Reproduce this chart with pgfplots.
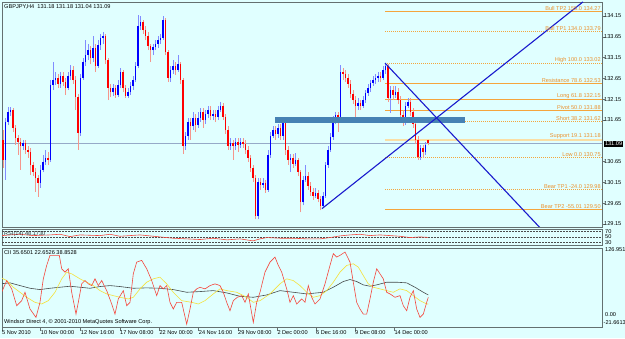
\documentclass[border=0pt]{standalone}
\usepackage{pgfplots}
\usepackage{pgfplotstable}
\pgfplotsset{compat=1.18}
\usepackage{fontspec}
\setmainfont{Liberation Sans}
\definecolor{bg}{RGB}{224,255,255}
\definecolor{bord}{RGB}{100,112,112}
\definecolor{cblue}{RGB}{0,0,255}
\definecolor{cred}{RGB}{255,0,0}
\definecolor{wblue}{RGB}{130,140,255}
\definecolor{wred}{RGB}{245,150,140}
\definecolor{fib}{RGB}{245,165,60}
\definecolor{fibpale}{RGB}{250,222,165}
\definecolor{fibtxt}{RGB}{235,145,45}
\definecolor{tline}{RGB}{25,25,205}
\definecolor{steel}{RGB}{70,130,180}
\definecolor{pline}{RGB}{150,170,200}
\definecolor{ccired}{RGB}{245,70,60}
\definecolor{cciyel}{RGB}{245,225,60}
\definecolor{ccigray}{RGB}{70,75,75}
\newcommand{\lab}{\fontsize{5.6}{6.5}\selectfont}
% bullish bars: x open high low close
\pgfplotstableread{
x o h l c
5.5 130.69 131.70 130.21 131.60
8 131.60 131.96 131.53 131.84
10.5 131.84 131.96 131.75 131.89
23 131.03 131.17 130.93 131.10
40.5 130.14 130.57 130.02 130.45
43 130.45 130.81 130.40 130.64
45.5 130.64 130.93 130.57 130.74
50.5 130.69 132.61 130.64 132.49
53 132.49 133.04 132.37 132.61
55.5 132.61 132.80 132.49 132.66
60.5 132.52 132.80 132.42 132.71
68 132.42 132.80 132.37 132.71
70.5 132.71 132.97 132.61 132.85
80.5 131.34 132.76 131.27 132.66
83 132.66 133.14 132.61 133.04
85.5 133.04 133.57 132.95 133.21
88 133.21 133.48 133.09 133.33
93 133.14 133.67 133.04 133.38
98 132.95 133.57 132.90 133.45
100.5 133.45 133.72 133.33 133.62
103 133.62 133.77 133.48 133.67
113 132.32 132.52 132.23 132.42
118 132.25 132.61 132.20 132.49
120.5 132.49 132.90 132.42 132.80
128 132.23 132.42 132.18 132.32
130.5 132.32 132.56 132.25 132.47
133 132.47 132.71 132.37 132.61
135.5 132.61 133.04 132.56 132.95
138 132.95 134.17 132.90 133.91
140.5 133.91 134.15 133.81 134.01
153 133.33 133.48 133.21 133.41
155.5 133.41 133.57 133.33 133.48
158 133.48 133.67 133.38 133.57
160.5 133.57 133.72 133.48 133.62
163 133.62 134.15 133.57 134.05
170.5 132.66 132.95 132.56 132.85
173 132.85 133.09 132.76 132.95
178 132.85 133.21 132.80 132.99
185.5 131.03 131.36 130.93 131.27
188 131.27 131.70 131.17 131.60
193 131.50 131.84 131.41 131.70
198 131.53 131.84 131.46 131.70
200.5 131.70 131.94 131.60 131.84
205.5 131.65 131.89 131.55 131.79
208 131.79 131.99 131.70 131.89
213 131.75 131.89 131.65 131.79
218 131.72 131.99 131.65 131.89
220.5 131.89 132.08 131.84 131.99
230.5 131.03 131.22 130.93 131.10
235.5 131.03 131.22 130.93 131.12
240.5 131.05 131.22 130.98 131.12
258 129.34 130.26 129.26 130.16
263 130.09 130.26 130.02 130.14
268 129.97 130.93 129.92 130.81
270.5 130.81 131.36 130.74 131.27
273 131.27 131.50 131.22 131.41
278 131.31 131.55 131.22 131.46
283 131.27 131.72 131.17 131.65
290.5 130.69 130.83 130.40 130.74
295.5 130.59 130.86 130.54 130.69
303 129.67 130.30 129.60 130.21
305.5 130.21 130.57 130.16 130.30
315.5 129.82 130.02 129.78 129.90
323 129.58 129.92 129.53 129.82
325.5 129.82 130.64 129.78 130.57
328 130.57 131.03 130.50 130.93
330.5 130.93 131.34 130.88 131.24
333 131.24 131.75 131.17 131.65
335.5 131.65 131.84 131.55 131.77
340.5 131.70 132.97 131.65 132.80
358 131.99 132.18 131.89 132.06
363 131.99 132.23 131.94 132.13
365.5 132.13 132.37 132.06 132.30
368 132.30 132.52 132.23 132.42
370.5 132.42 132.61 132.32 132.54
373 132.54 132.71 132.47 132.61
375.5 132.61 132.76 132.52 132.66
378 132.66 132.80 132.56 132.71
383 132.66 132.95 132.61 132.85
385.5 132.85 133.02 132.76 132.95
390.5 132.18 132.47 131.82 132.37
395.5 132.25 132.47 132.18 132.32
405.5 131.60 132.08 131.53 131.99
408 131.99 132.18 131.94 132.08
420.5 130.75 131.05 130.69 130.98
425.5 130.88 131.12 130.81 131.05
}\ups
% bearish bars: x open high low close
\pgfplotstableread{
x o h l c
3 131.17 131.41 130.50 130.69
13 131.89 131.94 131.36 131.46
15.5 131.46 131.53 131.05 131.22
18 131.22 131.29 130.81 131.12
20.5 131.12 131.22 130.45 131.03
25.5 131.10 131.17 130.83 130.93
28 130.93 131.03 130.74 130.88
30.5 130.88 130.98 130.33 130.57
33 130.57 130.64 130.30 130.40
35.5 130.40 130.50 129.92 130.26
38 130.26 130.33 129.80 130.14
48 130.74 130.88 130.57 130.69
58 132.66 132.76 132.42 132.52
63 132.71 132.80 132.47 132.56
65.5 132.56 132.66 132.25 132.42
73 132.85 132.95 132.52 132.61
75.5 132.61 132.71 131.89 132.20
78 132.20 132.28 130.93 131.34
90.5 133.33 133.43 132.99 133.14
95.5 133.38 133.48 132.80 132.95
105.5 133.67 133.72 132.99 133.09
108 133.09 133.14 132.13 132.42
110.5 132.42 132.52 132.20 132.32
115.5 132.42 132.49 132.18 132.25
123 132.80 132.85 132.32 132.42
125.5 132.42 132.49 132.18 132.23
143 134.01 134.05 133.72 133.81
145.5 133.81 133.91 133.57 133.67
148 133.67 133.77 133.33 133.43
150.5 133.43 133.48 133.04 133.33
165.5 134.05 134.10 133.21 133.28
168 133.28 133.33 132.56 132.66
175.5 132.95 133.04 132.73 132.85
180.5 132.99 133.04 132.52 132.61
183 132.61 132.66 130.83 131.03
190.5 131.60 131.70 131.17 131.50
195.5 131.70 131.79 131.36 131.53
203 131.84 131.94 131.46 131.65
210.5 131.89 131.99 131.65 131.75
215.5 131.79 131.89 131.60 131.72
223 131.99 132.06 131.65 131.72
225.5 131.72 131.79 131.31 131.41
228 131.41 131.50 130.93 131.03
233 131.10 131.17 130.69 131.03
238 131.12 131.22 130.88 131.05
243 131.12 131.22 130.98 131.07
245.5 131.07 131.17 130.83 130.93
248 130.93 131.03 130.64 130.74
250.5 130.74 130.81 130.40 130.50
253 130.50 130.57 130.16 130.26
255.5 130.26 130.33 129.26 129.34
260.5 130.16 130.26 129.97 130.09
265.5 130.14 130.21 129.90 129.97
275.5 131.41 131.50 131.17 131.31
280.5 131.46 131.55 131.17 131.27
285.5 131.65 131.70 130.81 130.93
288 130.93 131.03 130.57 130.69
293 130.74 130.83 130.50 130.59
298 130.69 130.74 130.30 130.40
300.5 130.40 130.45 129.43 129.67
308 130.30 130.40 129.97 130.06
310.5 130.06 130.16 129.82 129.92
313 129.92 130.02 129.73 129.82
318 129.90 129.97 129.67 129.75
320.5 129.75 129.82 129.48 129.58
338 131.77 131.84 131.36 131.70
343 132.80 132.90 132.61 132.76
345.5 132.76 132.85 132.56 132.66
348 132.66 132.76 132.42 132.52
350.5 132.52 132.61 132.18 132.28
353 132.28 132.37 132.03 132.13
355.5 132.13 132.23 131.70 131.99
360.5 132.06 132.13 131.89 131.99
380.5 132.71 132.80 132.56 132.66
388 132.95 132.99 132.08 132.18
393 132.37 132.47 132.13 132.25
398 132.32 132.42 132.03 132.13
400.5 132.13 132.23 131.70 131.77
403 131.77 131.89 131.50 131.60
410.5 132.08 132.18 131.75 131.84
413 131.84 131.94 131.46 131.55
415.5 131.55 131.65 131.07 131.17
418 131.17 131.27 130.69 130.75
423 130.98 131.05 130.74 130.88
428 131.18 131.18 131.04 131.09
}\downs
\begin{document}
\begin{tikzpicture}[x=1pt,y=1pt]
\useasboundingbox (0,0) rectangle (625,338);
\fill[bg] (0,0) rectangle (625,338);
% ---------------- main price panel
\begin{axis}[at={(2pt,336pt)}, anchor=north west, scale only axis, width=600pt, height=225pt,
  xmin=2, xmax=602, ymin=129.078, ymax=134.487,
  axis line style={draw=bord, line width=0.7pt},
  xtick=\empty,
  ytick={129.15,129.65,130.15,130.65,131.65,132.15,132.65,133.15,133.65,134.15},
  yticklabels={129.15,129.65,130.15,130.65,131.65,132.15,132.65,133.15,133.65,134.15},
  ytick pos=right, yticklabel pos=right, tick align=outside, major tick length=2.5pt,
  every tick/.style={bord, line width=0.5pt},
  yticklabel style={font=\lab, inner sep=0.5pt, anchor=west, xshift=-1pt, text=black},
  clip=true]
% current price line
\addplot[pline, line width=0.6pt] coordinates {(2,131.09) (602,131.09)};
% fibonacci levels
\addplot[fib, line width=0.7pt] coordinates {(385,134.27) (602,134.27)};
\addplot[fib, line width=0.7pt, dash pattern=on 1pt off 1pt] coordinates {(385,133.79) (602,133.79)};
\addplot[fib, line width=0.7pt, dash pattern=on 1pt off 1pt] coordinates {(385,133.02) (602,133.02)};
\addplot[fib, line width=0.7pt] coordinates {(385,132.53) (602,132.53)};
\addplot[fib, line width=0.7pt] coordinates {(385,132.15) (602,132.15)};
\addplot[fib, line width=0.6pt] coordinates {(385,131.88) (602,131.88)};
\addplot[fib, line width=0.7pt, dash pattern=on 1pt off 1pt] coordinates {(385,131.62) (602,131.62)};
\addplot[fibpale, line width=2.0pt] coordinates {(385,131.18) (602,131.18)};
\addplot[fib, line width=0.7pt, dash pattern=on 1pt off 1pt] coordinates {(385,130.75) (602,130.75)};
\addplot[fib, line width=0.7pt, dash pattern=on 1pt off 1pt] coordinates {(385,129.98) (602,129.98)};
\addplot[fib, line width=0.7pt] coordinates {(385,129.50) (602,129.50)};
% candles: wicks
\addplot[wblue, line width=1.0pt, quiver={u=0, v=\thisrow{h}-\thisrow{l}}] table[x=x, y=l] {\ups};
\addplot[wred, line width=1.0pt, quiver={u=0, v=\thisrow{h}-\thisrow{l}}] table[x=x, y=l] {\downs};
% candles: bodies
\addplot[cblue, line width=1.7pt, quiver={u=0, v=\thisrow{c}-\thisrow{o}}] table[x=x, y=o] {\ups};
\addplot[cred, line width=1.7pt, quiver={u=0, v=\thisrow{c}-\thisrow{o}}] table[x=x, y=o] {\downs};
% rectangle zone
\addplot[fill=steel, draw=none] coordinates {(275,131.73) (465,131.73) (465,131.57) (275,131.57)};
% trend lines
\addplot[tline, line width=1.1pt] coordinates {(322,129.52) (583,134.49)};
\addplot[tline, line width=1.1pt] coordinates {(385,133.02) (540,129.06)};
% fib labels
\begin{scope}[every node/.style={anchor=south east, font=\lab, text=fibtxt, inner sep=0.6pt}]
\node at (axis cs:601.5,134.27) {Bull TP2 155.0 134.27};
\node at (axis cs:601.5,133.79) {Bull TP1 134.0 133.79};
\node at (axis cs:601.5,133.02) {High 100.0 133.02};
\node at (axis cs:601.5,132.53) {Resistance 78.6 132.53};
\node at (axis cs:601.5,132.15) {Long 61.8 132.15};
\node at (axis cs:601.5,131.88) {Pivot 50.0 131.88};
\node at (axis cs:601.5,131.62) {Short 38.2 131.62};
\node at (axis cs:601.5,131.18) {Support 19.1 131.18};
\node at (axis cs:601.5,130.75) {Low 0.0 130.75};
\node at (axis cs:601.5,129.98) {Bear TP1 -24.0 129.98};
\node at (axis cs:601.5,129.50) {Bear TP2 -55.01 129.50};
\end{scope}
\end{axis}
% ---------------- RSI panel
\begin{axis}[at={(2pt,108.5pt)}, anchor=north west, scale only axis, width=600pt, height=16pt,
  xmin=2, xmax=602, ymin=17.2, ymax=78.3,
  axis line style={draw=bord, line width=0.7pt},
  xtick=\empty, ytick=\empty, clip=true]
\addplot[black!70, line width=0.4pt, dash pattern=on 1.5pt off 1.5pt] coordinates {(2,70) (602,70)};
\addplot[black!70, line width=0.4pt, dash pattern=on 1.5pt off 1.5pt] coordinates {(2,50) (602,50)};
\addplot[black!70, line width=0.4pt, dash pattern=on 1.5pt off 1.5pt] coordinates {(2,30) (602,30)};
\addplot[ccired, line width=0.6pt] coordinates {(2,55.0) (10,57.6) (20,60.1) (33,55.0) (50,57.6) (60,60.1) (70,51.3) (80,57.6) (100,55.0) (110,60.1) (120,52.5) (140,57.6) (160,50.0) (173,45.0) (187,42.5) (200,40.0) (213,45.0) (227,38.7) (240,42.5) (253,34.9) (260,42.5) (267,47.5) (280,45.0) (293,45.0) (307,42.5) (320,42.5) (330,47.5) (340,53.8) (350,57.6) (360,60.1) (370,55.0) (380,57.6) (390,55.0) (400,52.5) (410,47.5) (420,50.0) (428,48.2)};
\end{axis}
% ---------------- CCI panel
\begin{axis}[at={(2pt,90pt)}, anchor=north west, scale only axis, width=600pt, height=79.5pt,
  xmin=2, xmax=602, ymin=-21.6613, ymax=126.951,
  axis line style={draw=bord, line width=0.7pt},
  ytick=\empty,
  xtick={2,40.7,80.7,120,159.3,198.7,238,277.3,316,355,394.3},
  xticklabels={5 Nov 2010,10 Nov 00:00,12 Nov 16:00,17 Nov 08:00,22 Nov 00:00,24 Nov 16:00,29 Nov 08:00,2 Dec 00:00,6 Dec 16:00,9 Dec 08:00,14 Dec 00:00},
  xtick pos=lower, tick align=outside, major tick length=3pt,
  every tick/.style={bord, line width=0.5pt},
  xticklabel style={font=\lab, anchor=north west, inner sep=0.5pt, xshift=-0.5pt, yshift=1pt, text=black},
  clip=true]
\addplot[ccigray, line width=0.6pt] coordinates {(0,59.9) (10,61.8) (20,56.7) (30,51.7) (40,49.2) (50,51.7) (60,53.6) (70,55.5) (80,53.6) (90,51.7) (100,54.9) (110,56.7) (120,54.9) (133.3,51.7) (146.7,52.4) (160,51.7) (173.3,49.2) (186.7,44.2) (200,45.5) (213.3,47.3) (226.7,43.0) (240,36.7) (253.3,34.8) (266.7,39.2) (280,47.3) (293.3,44.2) (306.7,41.1) (323.3,44.2) (333.3,53.6) (343.3,64.3) (350,68.0) (356.7,64.3) (363.3,58.0) (370,55.5) (376.7,58.0) (386.7,63.0) (396.7,63.0) (406.7,61.8) (415,53.6) (423.3,44.2) (428.3,39.2)};
\addplot[cciyel, line width=0.6pt] coordinates {(0,72.4) (6.7,66.1) (13.3,53.6) (20,44.2) (26.7,34.8) (35,25.4) (41.7,22.3) (48.3,28.5) (55,44.2) (61.7,69.3) (66.7,81.8) (71.7,78.7) (80,69.3) (86.7,63.0) (93.3,56.7) (100,47.3) (106.7,41.1) (113.3,37.9) (120,34.8) (128.3,31.7) (133.3,34.8) (140,50.5) (146.7,63.0) (153.3,69.3) (160,72.4) (166.7,59.9) (173.3,44.2) (181.7,28.5) (191.7,25.4) (198.3,22.3) (205,28.5) (213.3,41.1) (220,50.5) (226.7,47.3) (236.7,44.2) (246.7,34.8) (253.3,25.4) (260,28.5) (270,41.1) (280,59.9) (286.7,69.3) (293.3,66.1) (300,56.7) (306.7,44.2) (313.3,34.8) (320,37.9) (326.7,47.3) (333.3,63.0) (340,81.8) (346.7,94.4) (353.3,97.5) (358.3,91.2) (363.3,75.5) (368.3,59.9) (373.3,53.6) (380,50.5) (386.7,47.3) (393.3,44.2) (400,50.5) (406.7,47.3) (413.3,37.9) (420,28.5) (426.7,22.3) (428.3,22.3)};
\addplot[ccired, line width=0.6pt] coordinates {(1.7,44.2) (6.7,66.1) (11.7,50.5) (16.7,19.1) (21.7,28.5) (25,44.2) (30,12.9) (36,-2.8) (40,25.4) (43.3,69.3) (46.7,94.4) (50,113.2) (55,113.2) (59.3,113.2) (61.7,88.1) (65,81.8) (68.3,88.1) (71.7,44.2) (76,3.4) (78.3,25.4) (81.7,59.9) (85,66.1) (88.3,59.9) (91.7,56.7) (95,69.3) (98.3,56.7) (101.7,66.1) (106.7,47.3) (111.7,22.3) (115,3.4) (118.3,31.7) (123.3,47.3) (126.7,19.1) (130,25.4) (133.3,78.7) (136.7,100.6) (141.7,103.8) (146.7,88.1) (151.7,66.1) (156.7,37.9) (160,56.7) (163.3,50.5) (166.7,56.7) (170,25.4) (173.3,12.9) (176.7,25.4) (181.7,25.4) (186.7,-15.4) (190,12.9) (193.3,44.2) (196.7,50.5) (200,53.6) (205,50.5) (210,56.7) (215,59.9) (220,56.7) (223.3,44.2) (226.7,25.4) (230,9.7) (233.3,28.5) (237.3,34.8) (241.7,37.9) (245,25.4) (248.3,41.1) (253.3,-12.2) (256.7,25.4) (260,44.2) (265,81.8) (270,100.6) (275,110.0) (278.3,94.4) (281.7,81.8) (286.7,50.5) (290,25.4) (293.3,37.9) (296.7,22.3) (301.7,31.7) (305,25.4) (308.3,56.7) (311.7,34.8) (315,22.3) (320,31.7) (325,59.9) (330,94.4) (333.3,116.3) (336.7,110.0) (340,113.2) (345,119.4) (350,100.6) (353.3,63.0) (356.7,25.4) (360,12.9) (363.3,3.4) (366.7,3.4) (370,31.7) (373.3,63.0) (376.7,88.1) (380,78.7) (383.3,69.3) (386.7,44.2) (390,41.1) (395,34.8) (400,37.9) (403.3,19.1) (406.7,9.7) (410,34.8) (413.3,47.3) (416.7,12.9) (420,-2.8) (423.3,3.4) (426.7,25.4) (428.3,34.8)};
\end{axis}
% ---------------- texts
\node[anchor=west, font=\lab, inner sep=0pt] at (4,331) {GBPJPY,H4\ \ 131.18 131.18 131.04 131.09};
\node[fill=black, text=white, font=\lab, inner sep=0.8pt, anchor=west] at (604,194) {131.09};
\node[anchor=west, font=\lab, inner sep=0pt, text=black!80] at (4,104) {RSI(14) 48.1730};
\node[anchor=west, font=\lab, inner sep=0pt] at (605,106.3) {70};
\node[anchor=west, font=\lab, inner sep=0pt] at (605,101) {50};
\node[anchor=west, font=\lab, inner sep=0pt] at (605,95.7) {30};
\node[anchor=west, font=\lab, inner sep=0pt] at (4,85) {CII 35.6501 22.6526 38.8528};
\node[anchor=west, font=\lab, inner sep=0pt] at (4,16) {Windsor Direct 4, © 2001-2010 MetaQuotes Software Corp.};
\node[anchor=west, font=\lab, inner sep=0pt] at (605,88) {126.951};
\node[anchor=west, font=\lab, inner sep=0pt] at (605,23) {0.00};
\node[anchor=west, font=\lab, inner sep=0pt] at (603.5,15) {-21.6613};
\end{tikzpicture}
\end{document}
